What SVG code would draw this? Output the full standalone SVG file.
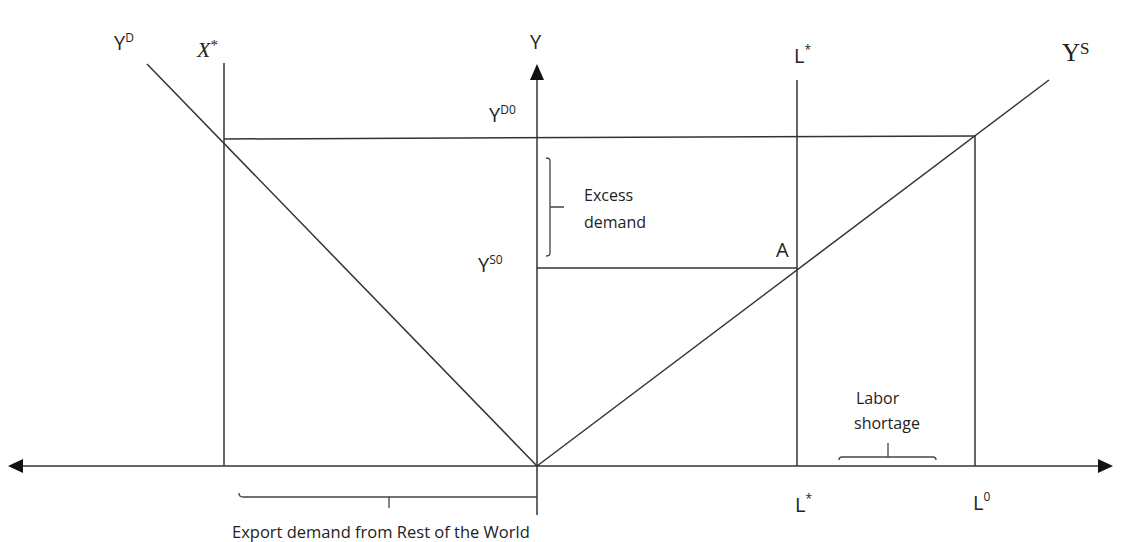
<svg xmlns="http://www.w3.org/2000/svg" width="1140" height="542" viewBox="0 0 1140 542">
<style>
.ln{stroke:#333;stroke-width:1.5;fill:none}
.br{stroke:#444;stroke-width:1.3;fill:none}
.t{font-family:"Open Sans","Noto Sans",sans-serif;fill:#222}
.s{font-family:"Liberation Serif",serif;fill:#222}
.lab{font-size:20px}
.sup{font-size:12px}
</style>
<rect width="1140" height="542" fill="#fff"/>
<g id="connectors">
<line class="ln" x1="537" y1="466" x2="10" y2="466"/>
<path d="M8,466 L23,459 L23,473 Z" fill="#111"/>
<line class="ln" x1="537" y1="466" x2="1098" y2="466"/>
<path d="M1113,466 L1098,459 L1098,473 Z" fill="#111"/>
<line class="ln" x1="537" y1="515" x2="537" y2="78"/>
<path d="M537,64 L530,80 L544,80 Z" fill="#111"/>
<line class="ln" x1="147" y1="64" x2="537" y2="466"/>
<line class="ln" x1="537" y1="466" x2="1049" y2="80"/>
<line class="ln" x1="224" y1="63" x2="224" y2="466"/>
<line class="ln" x1="224" y1="139" x2="975" y2="136"/>
<line class="ln" x1="975" y1="136" x2="975" y2="466"/>
<line class="ln" x1="797" y1="80" x2="797" y2="466"/>
<line class="ln" x1="537" y1="268" x2="797" y2="268"/>
</g>
<g id="excess-bracket">
<path class="br" d="M546,158 Q550,158 550,161 L550,253 Q550,256 546,256 M550,207 L564,207"/>
<text class="t" x="584" y="201" font-size="16">Excess</text>
<text class="t" x="584" y="228" font-size="16">demand</text>
</g>
<g id="labor-bracket">
<path class="br" d="M839,460 Q839,457 842,457 L933,457 Q936,457 936,460 M888,457 L888,443"/>
<text class="t" x="856" y="404" font-size="16">Labor</text>
<text class="t" x="854" y="429" font-size="16">shortage</text>
</g>
<g id="export-bracket">
<path class="br" d="M239,493 Q239,497 243,497 L537,497 M389,497 L389,508"/>
<text class="t" x="232" y="538" font-size="16.5">Export demand from Rest of the World</text>
</g>
<g id="label-YD">
<text class="t lab" x="114" y="50">Y<tspan class="sup" dy="-8">D</tspan></text>
</g>
<g id="label-Xstar">
<text class="s" x="197" y="57" font-size="22" font-style="italic">X<tspan font-size="15" dy="-7" font-style="normal">*</tspan></text>
</g>
<g id="label-Y">
<text class="t lab" x="530" y="49">Y</text>
</g>
<g id="label-YD0">
<text class="t lab" x="489" y="122">Y<tspan class="sup" dy="-8">D0</tspan></text>
</g>
<g id="label-YS0">
<text class="t lab" x="478" y="272">Y<tspan class="sup" dy="-8">S0</tspan></text>
</g>
<g id="label-A">
<text class="t lab" x="776" y="257">A</text>
</g>
<g id="label-Lstar-top">
<text class="t lab" x="794" y="63">L<tspan class="sup" dy="-9">*</tspan></text>
</g>
<g id="label-YS">
<text class="s" x="1062" y="61" font-size="25">Y<tspan font-size="17" dy="-7">S</tspan></text>
</g>
<g id="label-Lstar-bottom">
<text class="t lab" x="795" y="512">L<tspan class="sup" dy="-9">*</tspan></text>
</g>
<g id="label-L0">
<text class="t lab" x="973" y="510">L<tspan class="sup" dy="-9">0</tspan></text>
</g>
</svg>
